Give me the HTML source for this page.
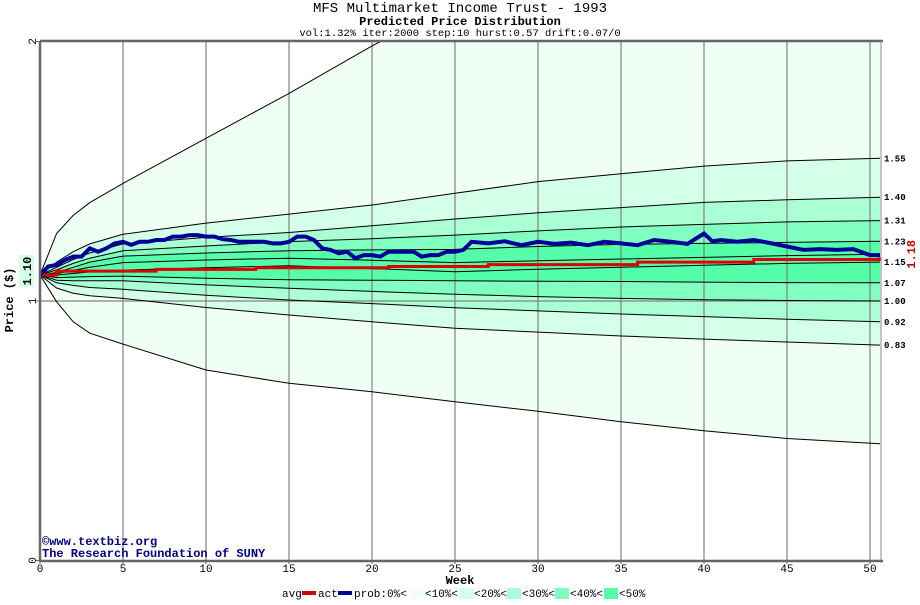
<!DOCTYPE html>
<html><head><meta charset="utf-8"><style>
body{margin:0;background:#fff;}
svg text{font-family:"Liberation Mono",monospace;}
</style></head><body>
<svg id="chart" width="920" height="600" xmlns="http://www.w3.org/2000/svg">
<text x="460" y="12" text-anchor="middle" font-size="14">MFS Multimarket Income Trust - 1993</text>
<text x="460" y="25" text-anchor="middle" font-size="12" font-weight="bold">Predicted Price Distribution</text>
<text x="460" y="36" text-anchor="middle" font-size="10.5">vol:1.32% iter:2000 step:10 hurst:0.57 drift:0.07/0</text>
<g id="bands"></g><g id="grid"></g><g id="lines"></g><g id="series"></g><g id="axes"></g>
<text x="42" y="545" font-size="12" font-weight="bold" fill="#000080">©www.textbiz.org</text>
<text x="42" y="557" font-size="12" font-weight="bold" fill="#000080">The Research Foundation of SUNY</text>
<text x="460" y="584" text-anchor="middle" font-size="12" font-weight="bold">Week</text>
<text transform="translate(13,300) rotate(-90)" text-anchor="middle" font-size="12" font-weight="bold">Price ($)</text>
<g font-size="11">
<text x="282" y="597">avg</text><rect x="302" y="591" width="14" height="4" fill="#cc0000"/>
<text x="318" y="597">act</text><rect x="338" y="591" width="14" height="4" fill="#000099"/>
<text x="354" y="597">prob:0%&lt;</text><rect x="410" y="588" width="14" height="11" fill="#f0fff4"/>
<text x="425" y="597">&lt;10%&lt;</text><rect x="459" y="588" width="14" height="11" fill="#d4ffe8"/>
<text x="474" y="597">&lt;20%&lt;</text><rect x="507" y="588" width="14" height="11" fill="#aaffd4"/>
<text x="522" y="597">&lt;30%&lt;</text><rect x="555" y="588" width="14" height="11" fill="#80ffc0"/>
<text x="570" y="597">&lt;40%&lt;</text><rect x="604" y="588" width="14" height="11" fill="#55ffaa"/>
<text x="619" y="597">&lt;50%</text>
</g>
</svg>
<script>
const weeks=[0,1,2,3,5,10,15,20,25,30,35,40,45,50.6];
const outerUp=[1.10,1.26,1.33,1.379,1.453,1.627,1.80,1.983,2.15,2.3,2.45,2.6,2.72,2.85];
const outerLo=[1.10,0.997,0.92,0.876,0.834,0.734,0.683,0.650,0.612,0.575,0.535,0.50,0.47,0.45];
const q10U=[1.10,1.15,1.19,1.22,1.257,1.30,1.335,1.37,1.415,1.46,1.49,1.52,1.54,1.55];
const q20U=[1.10,1.13,1.16,1.185,1.22,1.245,1.264,1.29,1.316,1.34,1.36,1.38,1.39,1.40];
const q30U=[1.10,1.12,1.145,1.165,1.194,1.212,1.229,1.24,1.254,1.27,1.285,1.295,1.305,1.31];
const q40U=[1.10,1.11,1.13,1.15,1.173,1.185,1.194,1.197,1.199,1.21,1.218,1.222,1.226,1.23];
const q50U=[1.10,1.105,1.118,1.13,1.148,1.158,1.165,1.157,1.148,1.155,1.162,1.168,1.175,1.18];
const q50L=[1.10,1.10,1.106,1.112,1.119,1.128,1.136,1.125,1.113,1.122,1.13,1.138,1.145,1.15];
const q40L=[1.10,1.09,1.092,1.094,1.096,1.088,1.082,1.08,1.078,1.076,1.075,1.073,1.071,1.07];
const q30L=[1.10,1.08,1.078,1.078,1.078,1.062,1.049,1.037,1.026,1.017,1.01,1.005,1.002,1.00];
const q20L=[1.10,1.07,1.06,1.052,1.045,1.022,1.004,0.99,0.974,0.962,0.95,0.94,0.93,0.92];
const q10L=[1.10,1.05,1.03,1.02,1.01,0.975,0.946,0.92,0.895,0.88,0.865,0.853,0.842,0.83];
const endLabels=["1.55","1.40","1.31","1.23","1.15","1.07","1.00","0.92","0.83"];
const endValues=[1.55,1.40,1.31,1.23,1.15,1.07,1.00,0.92,0.83];
const actWeeks=[0,0.5,1,1.5,2,2.5,3,3.5,4,4.5,5,5.5,6,6.5,7,7.5,8,8.5,9,9.5,10,10.5,11,11.5,12,12.5,13,13.5,14,14.5,15,15.5,16,16.5,17,17.5,18,18.5,19,19.5,20,20.5,21,21.5,22,22.5,23,23.5,24,24.5,25,25.5,26,27,28,29,30,31,32,33,34,35,36,37,38,39,40,40.5,41,42,43,44,45,46,47,48,49,50,50.6];
const actVals=[1.10,1.133,1.139,1.158,1.171,1.171,1.203,1.19,1.203,1.222,1.228,1.216,1.228,1.228,1.235,1.235,1.248,1.248,1.254,1.254,1.248,1.248,1.238,1.235,1.228,1.228,1.228,1.228,1.222,1.222,1.228,1.248,1.248,1.235,1.203,1.197,1.184,1.19,1.165,1.177,1.177,1.171,1.19,1.19,1.19,1.19,1.171,1.177,1.177,1.19,1.19,1.197,1.228,1.222,1.23,1.215,1.228,1.22,1.225,1.215,1.228,1.222,1.215,1.235,1.228,1.22,1.26,1.23,1.235,1.228,1.235,1.223,1.21,1.197,1.2,1.197,1.2,1.177,1.177];
const avgWeeks=[0,1,7,13,21,27,36,43,50.6];
const avgVals=[1.10,1.115,1.122,1.128,1.133,1.14,1.150,1.160,1.168];
const xTicks=[0,5,10,15,20,25,30,35,40,45,50];
const yTicks=[0,1,2];

const NS="http://www.w3.org/2000/svg";
const X0=40,XR=881,YT=41,YB=560;
const xs=w=>X0+w*16.6;
const ys=v=>560.5-v*259.5;
function mk(tag,attrs,parent){const e=document.createElementNS(NS,tag);for(const k in attrs)e.setAttribute(k,attrs[k]);parent.appendChild(e);return e;}
const pts=(ws,vs)=>ws.map((w,i)=>xs(w).toFixed(1)+","+ys(vs[i]).toFixed(1));
const bands=document.getElementById('bands');
const cp=mk('clipPath',{id:'plotclip'},document.getElementById('chart'));
mk('rect',{x:X0,y:YT,width:XR-X0,height:YB-YT},cp);
bands.setAttribute('clip-path','url(#plotclip)');
const bandDefs=[[outerUp,outerLo,'#f0fff4','band-0'],[q10U,q10L,'#d4ffe8','band-10'],[q20U,q20L,'#aaffd4','band-20'],[q30U,q30L,'#80ffc0','band-30'],[q40U,q40L,'#55ffaa','band-40']];
bandDefs.forEach(b=>{
 const p=mk('polygon',{points:pts(weeks,b[0]).concat(pts(weeks,b[1]).reverse()).join(' '),fill:b[2]},bands);
 
 
});
const grid=document.getElementById('grid');
xTicks.forEach(t=>{if(t>0){const l=mk('line',{x1:xs(t),x2:xs(t),y1:YT,y2:YB,stroke:'#808080','stroke-width':1.2},grid);}});
const hl=mk('line',{x1:X0,x2:XR,y1:ys(1),y2:ys(1),stroke:'#808080','stroke-width':1.2},grid);


const lines=document.getElementById('lines');
lines.setAttribute('clip-path','url(#plotclip)');
[outerUp,outerLo,q10U,q20U,q30U,q40U,q50U,q50L,q40L,q30L,q20L,q10L].forEach(q=>{
 const l=mk('polyline',{points:pts(weeks,q).join(' '),fill:'none',stroke:'#000','stroke-width':1},lines);
 
 
});
const ser=document.getElementById('series');
const avg=mk('polyline',{points:avgWeeks.map((w,i)=>{const p=[xs(w)+","+ys(avgVals[i])];if(i+1<avgWeeks.length)p.push(xs(avgWeeks[i+1])+","+ys(avgVals[i]));return p.join(' ');}).join(' '),fill:'none',stroke:'#dd0000','stroke-width':3},ser);


const act=mk('polyline',{points:pts(actWeeks,actVals).join(' '),fill:'none',stroke:'#000099','stroke-width':4,'stroke-linejoin':'miter'},ser);


const ax=document.getElementById('axes');
const frT=mk('line',{x1:X0,x2:XR+2,y1:YT,y2:YT,stroke:'#666','stroke-width':2.5},ax);

const frB=mk('line',{x1:X0,x2:XR+2,y1:YB+1,y2:YB+1,stroke:'#666','stroke-width':2.5},ax);

const frL=mk('line',{x1:X0,x2:X0,y1:YT,y2:YB+2,stroke:'#666','stroke-width':2.5},ax);

const frR=mk('line',{x1:XR,x2:XR,y1:YT,y2:YB,stroke:'#888','stroke-width':1},ax);

xTicks.forEach(t=>{
 const tx=mk('text',{x:xs(t),y:572,'text-anchor':'middle','font-size':11},ax);tx.textContent=t;
 
 mk('line',{x1:xs(t),x2:xs(t),y1:YB,y2:YB+4,stroke:'#666'},ax);
});
yTicks.forEach(t=>{
 const tx=mk('text',{transform:`translate(36,${ys(t)}) rotate(-90)`,'text-anchor':'middle','font-size':11},ax);tx.textContent=t;
 
 mk('line',{x1:X0-4,x2:X0,y1:ys(t),y2:ys(t),stroke:'#666'},ax);
});
endLabels.forEach((s,i)=>{
 const tx=mk('text',{x:884,y:ys(endValues[i])+3,'font-size':9,'font-weight':'bold'},ax);tx.textContent=s;
 
});
mk('rect',{x:19,y:ys(1.10)-20,width:15,height:32,fill:'#d4ffe8'},ax);
const st=mk('text',{transform:`translate(31,${ys(1.10)-4}) rotate(-90)`,'text-anchor':'middle','font-size':12,'font-weight':'bold'},ax);st.textContent='1.10';

const en=mk('text',{transform:`translate(915,${ys(1.18)}) rotate(-90)`,'text-anchor':'middle','font-size':12,'font-weight':'bold',fill:'#cc0000'},ax);en.textContent='1.18';

</script>
</body></html>
